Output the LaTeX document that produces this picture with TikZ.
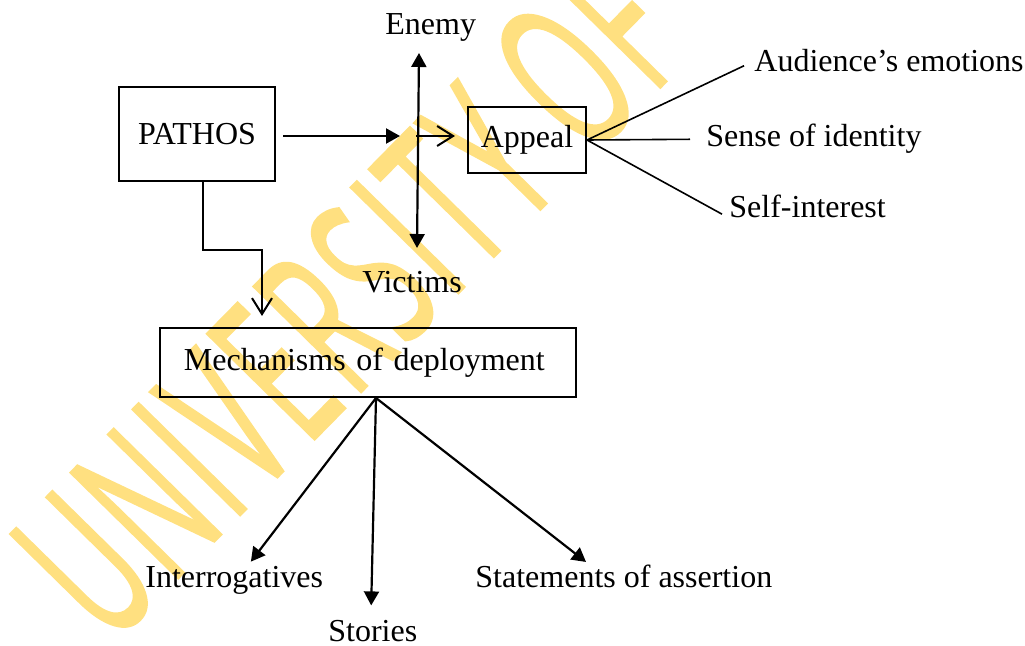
\documentclass[tikz,border=0pt]{standalone}
\usepackage{fontspec}
\setmainfont{Liberation Serif}
\newfontfamily\wmfont{Open Sans}[FakeBold=1.5, LetterSpace=4]
\usetikzlibrary{arrows.meta}
\definecolor{wmyellow}{RGB}{255,224,128}
\tikzset{
  box/.style={draw, line width=1pt, inner sep=0pt},
  lbl/.style={inner sep=0pt, anchor=base west},
  solidarrow/.style={line width=1.1pt, -{Triangle[length=7pt,width=7.5pt]}},
  openarrow/.style={line width=1pt, -{Straight Barb[length=8pt,width=10pt]}},
  fan/.style={line width=0.8pt}
}
\begin{document}
\begin{tikzpicture}[x=0.5pt, y=-0.5pt, font=\fontsize{16pt}{19pt}\selectfont]
\useasboundingbox (0,0) rectangle (1025,646);
\clip (0,0) rectangle (1025,646);

% watermark behind the diagram
\begin{scope}[shift={(110,647)}, rotate=45.5, xscale=0.53]
  \node[anchor=base west, inner sep=0pt, text=wmyellow, transform shape,
        font=\wmfont\fontsize{105pt}{105pt}\selectfont] (wm) at (0,0) {UNIVERSITY OF};
\end{scope}

% boxes
\node[box, minimum width=78pt, minimum height=47pt] (pathos) at (197,134) {PATHOS};
\node[box, minimum width=59pt, minimum height=33pt] (appeal) at (527,140) {Appeal};
\node[box, minimum height=34.5pt, text width=184pt, align=left, inner xsep=12pt] (mech) at (368,362.5) {Mechanisms of deployment};

% labels
\node[lbl] (enemy) at (385,35) {Enemy};
\node[lbl] (victims) at (362,293) {Victims};
\node[lbl] (aud) at (754,72) {Audience’s emotions};
\node[lbl] (ident) at (706,147) {Sense of identity};
\node[lbl] (self) at (729,218) {Self-interest};
\node[lbl] (inter) at (145,588) {Interrogatives};
\node[lbl] (stories) at (328,642) {Stories};
\node[lbl] (assert) at (475,588) {Statements of assertion};

% crossing point and ends of the vertical double arrow
\coordinate (hub) at (418,136);
\coordinate (etip) at (419,53);
\coordinate (vtip) at (417,248);

% arrows around the crossing
\draw[solidarrow, shorten <=3.5pt, shorten >=9pt] (pathos.east |- hub) -- (hub);
\draw[line width=1.1pt, {Triangle[length=7pt,width=7.5pt]}-{Triangle[length=7pt,width=7.5pt]}] (vtip) -- (etip);
\draw[openarrow, shorten >=6pt] ([xshift=-1pt]hub) -- (hub -| appeal.west);

% fan from Appeal
\draw[fan, shorten >=5.5pt] (appeal.east) -- (aud.west);
\draw[fan, shorten >=8pt] (appeal.east) -- (ident.west);
\draw[fan, shorten >=4pt] (appeal.east) -- (self.base west);

% PATHOS down to the mechanisms box
\draw[openarrow, shorten >=5.5pt] ([xshift=3pt]pathos.south) -- ++(0,68) -| ([xshift=51.5pt]mech.north west);

% mechanisms of deployment
\draw[solidarrow, shorten >=3pt] ([xshift=4pt]mech.south) -- ([xshift=6.5pt]inter.north);
\draw[solidarrow, shorten >=7.5pt] ([xshift=4pt]mech.south) -- ([xshift=-1pt]stories.north);
\draw[solidarrow, shorten >=2.5pt] ([xshift=4pt]mech.south) -- ([xshift=57.5pt]assert.north west);
\end{tikzpicture}
\end{document}
